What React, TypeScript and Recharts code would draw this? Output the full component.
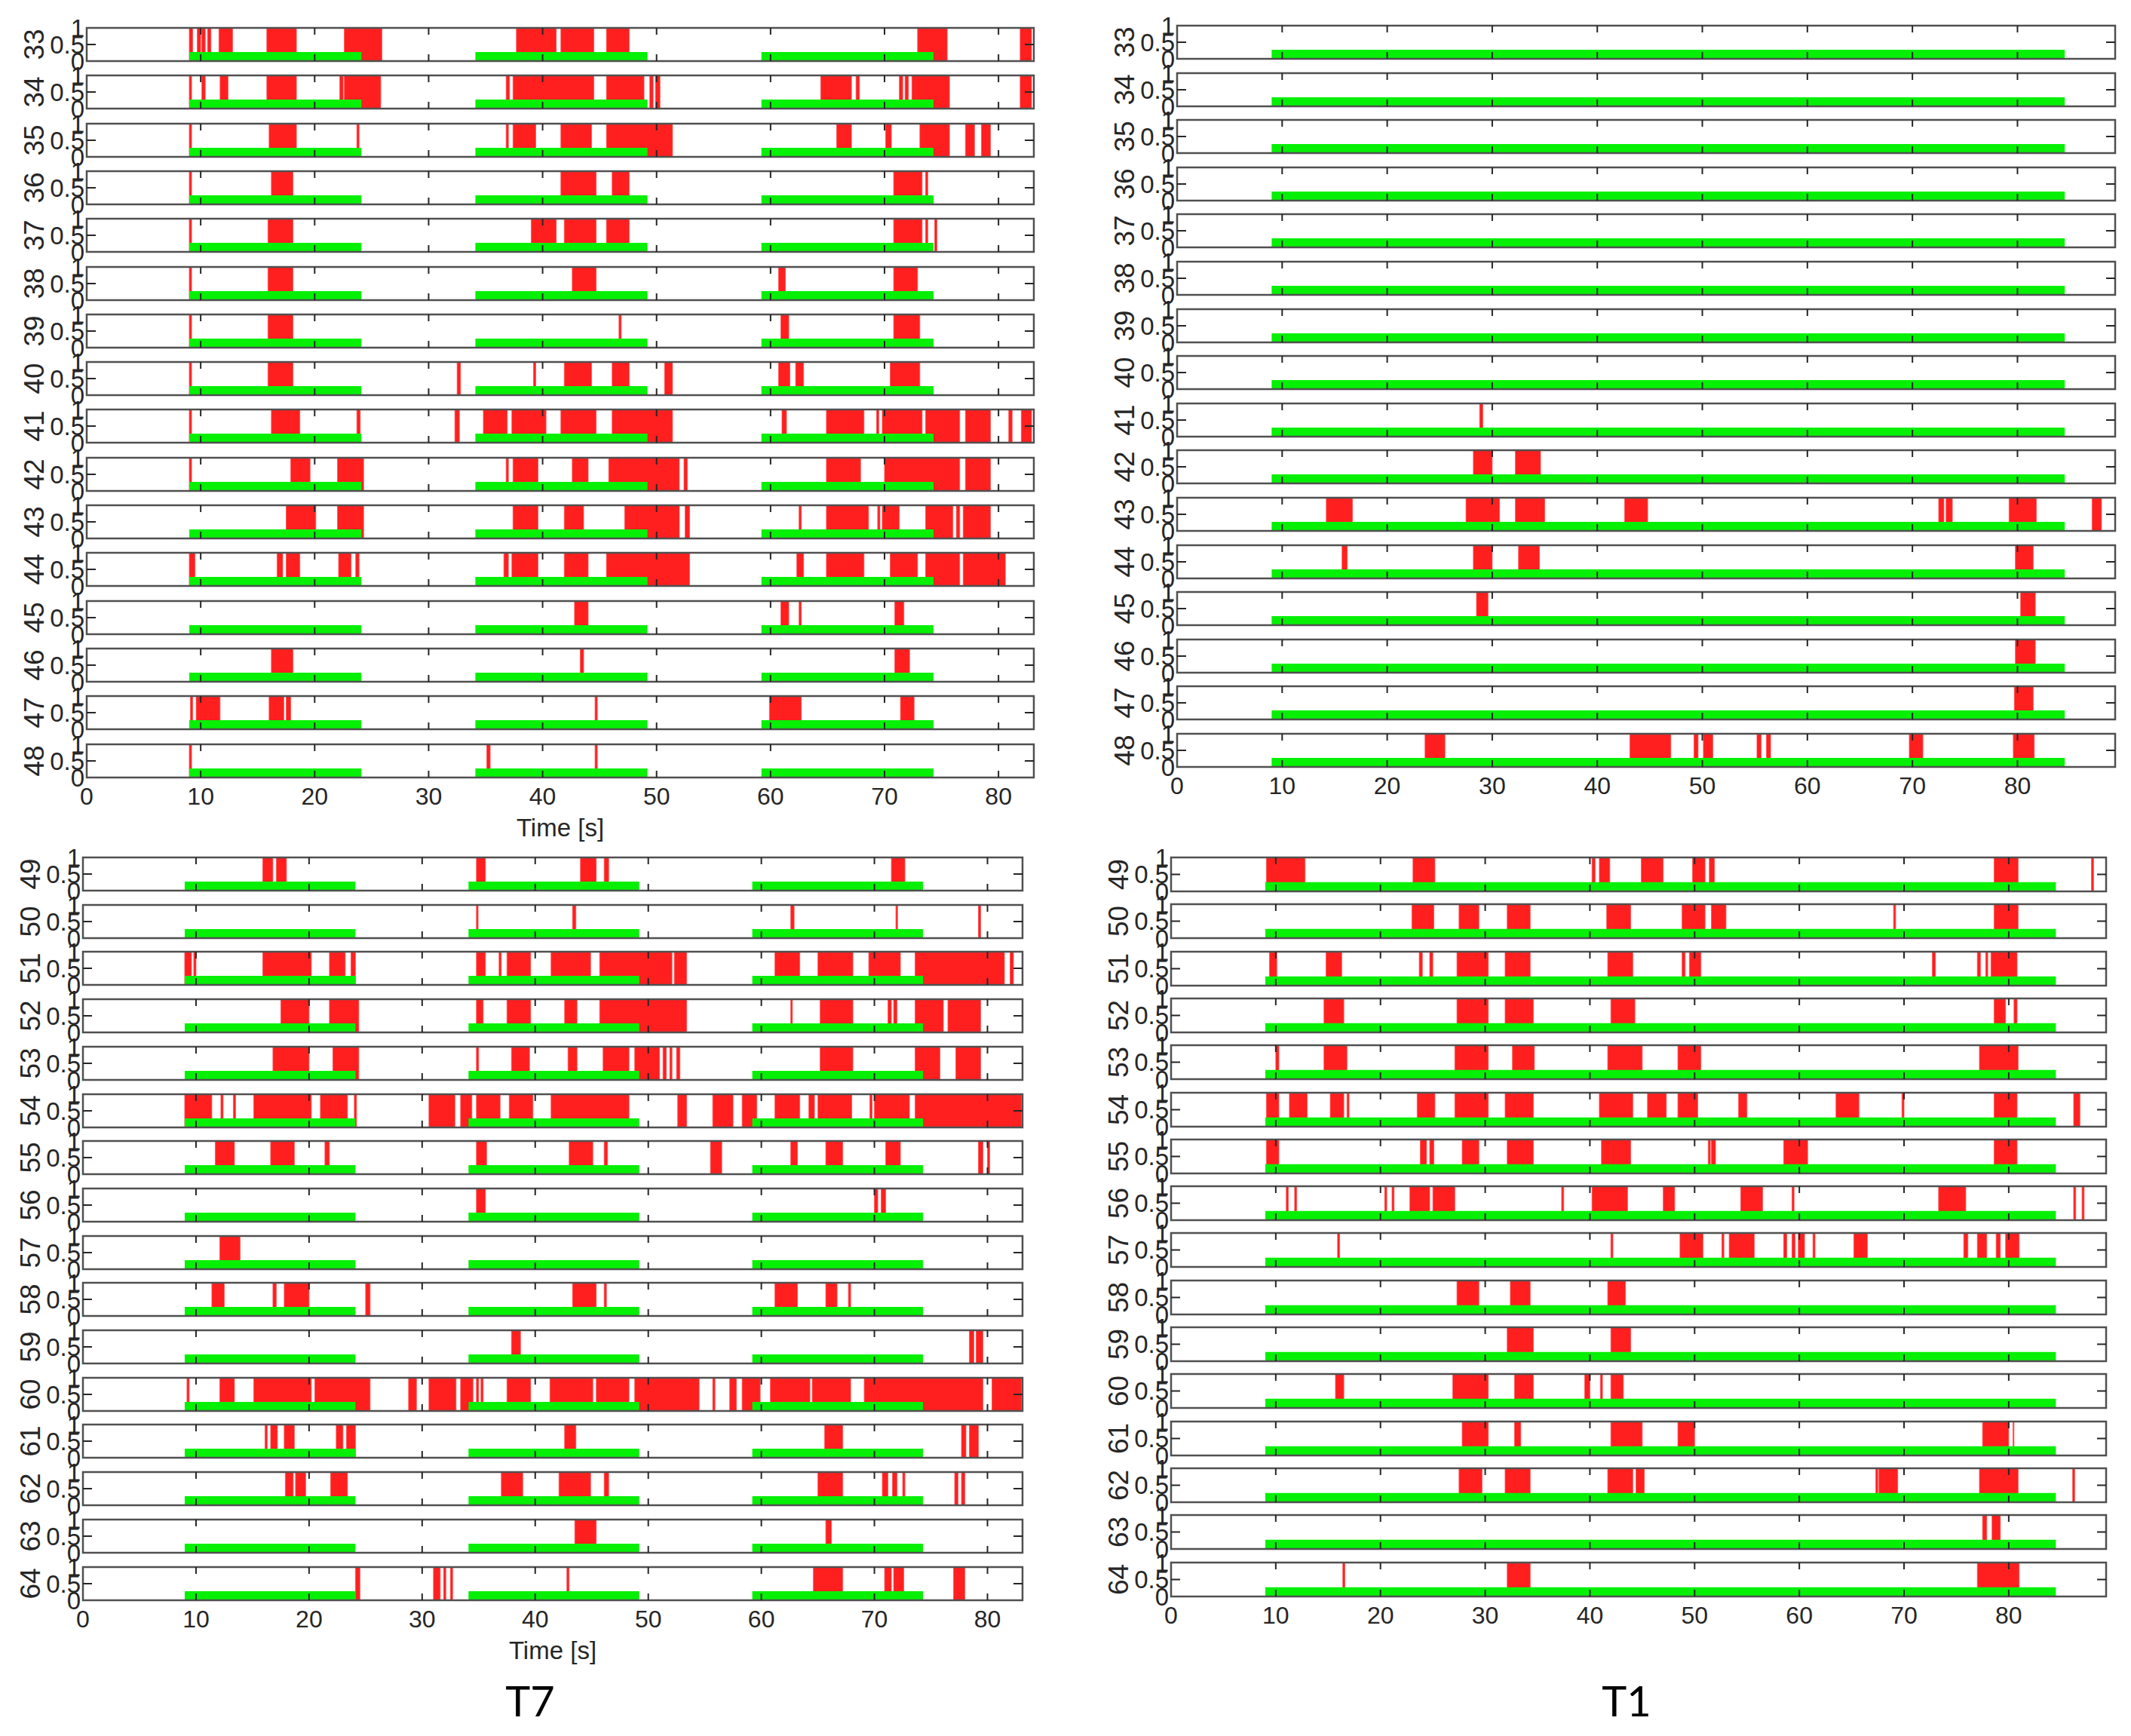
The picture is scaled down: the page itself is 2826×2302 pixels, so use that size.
import React from 'react';
import { ComposedChart, XAxis, YAxis, Line, ReferenceArea, ReferenceLine } from 'recharts';

type Span = [number, number];

const INK = '#262626';
const FONT = '"Liberation Sans", Arial, sans-serif';
const RED = '#ff1f1f';
const GREEN = '#05f005';

const UPPER_CHANNELS = [33, 34, 35, 36, 37, 38, 39, 40, 41, 42, 43, 44, 45, 46, 47, 48];
const LOWER_CHANNELS = [49, 50, 51, 52, 53, 54, 55, 56, 57, 58, 59, 60, 61, 62, 63, 64];
const TIME_TICKS = [0, 10, 20, 30, 40, 50, 60, 70, 80];
const LEVEL_TICKS = [0, 0.5, 1];

// stimulation windows (green) and their bar level
const T7_STIM: Span[] = [[9.0, 24.1], [34.1, 49.2], [59.2, 74.3]];
const T1_STIM: Span[] = [[9.0, 84.5]];
const STIM_LEVEL = 0.27;

// x limits of the two recordings
const T7_XMAX = 83.1;
const T1_XMAX = 89.3;

// activity (red), one list per channel, T7 channels 33-48
const T7_UPPER: Span[][] = [
  [[9.0, 9.3], [9.7, 10.0], [10.1, 10.4], [10.6, 10.9], [11.6, 12.8], [15.8, 18.4], [22.6, 25.9], [37.7, 41.2], [41.6, 44.5], [45.6, 47.6], [72.9, 75.5], [81.9, 82.9]],
  [[9.0, 9.2], [10.1, 10.4], [11.7, 12.4], [15.8, 18.4], [22.2, 22.5], [22.6, 25.8], [36.8, 37.1], [37.4, 44.5], [45.6, 48.9], [49.4, 49.7], [49.9, 50.3], [64.4, 67.1], [67.5, 67.8], [71.3, 71.6], [71.8, 72.1], [72.4, 75.7], [81.9, 82.9]],
  [[9.0, 9.2], [16.0, 18.4], [23.7, 23.9], [36.8, 37.0], [37.4, 39.4], [41.6, 44.3], [45.6, 51.4], [65.8, 67.1], [70.1, 70.6], [73.1, 75.7], [77.1, 77.9], [78.5, 79.3]],
  [[9.0, 9.2], [16.2, 18.1], [41.6, 44.7], [46.1, 47.6], [70.8, 73.3], [73.6, 73.8]],
  [[9.0, 9.2], [15.9, 18.1], [39.0, 41.2], [41.9, 44.7], [45.6, 47.6], [70.8, 73.3], [73.6, 73.8], [74.4, 74.6]],
  [[9.0, 9.2], [15.9, 18.1], [42.6, 44.7], [60.7, 61.3], [70.8, 72.9]],
  [[9.0, 9.2], [15.9, 18.1], [46.7, 46.9], [60.9, 61.6], [70.8, 73.1]],
  [[9.0, 9.2], [15.9, 18.1], [32.5, 32.8], [39.2, 39.4], [41.9, 44.3], [46.1, 47.6], [50.7, 51.4], [60.7, 61.7], [62.2, 62.9], [70.5, 73.1]],
  [[9.0, 9.2], [16.2, 18.7], [23.7, 24.0], [32.3, 32.7], [34.8, 36.9], [37.3, 40.3], [41.6, 44.7], [46.1, 51.4], [61.0, 61.4], [64.9, 68.2], [69.3, 69.5], [69.8, 73.3], [73.6, 76.6], [77.1, 79.3], [80.9, 81.2], [82.0, 82.9]],
  [[9.0, 9.2], [17.9, 19.6], [22.0, 24.3], [36.8, 37.0], [37.4, 39.6], [42.6, 44.0], [45.8, 52.0], [52.4, 52.7], [64.9, 67.9], [70.0, 76.6], [77.1, 79.3]],
  [[17.5, 20.1], [22.0, 24.3], [37.4, 39.6], [41.9, 43.6], [47.2, 52.0], [52.5, 52.9], [62.5, 62.7], [64.9, 68.6], [69.4, 69.6], [69.8, 71.3], [73.6, 76.0], [76.3, 76.6], [76.9, 79.3]],
  [[9.0, 9.5], [16.7, 17.2], [17.5, 18.7], [22.1, 23.2], [23.6, 23.9], [36.6, 37.0], [37.3, 39.6], [41.9, 44.0], [45.6, 52.9], [62.3, 62.9], [64.9, 68.2], [70.5, 72.9], [73.6, 76.6], [76.9, 80.6]],
  [[42.8, 44.0], [60.9, 61.6], [62.5, 62.7], [70.9, 71.7]],
  [[16.2, 18.1], [43.3, 43.6], [70.9, 72.2]],
  [[9.1, 9.3], [9.6, 11.7], [16.0, 17.3], [17.5, 17.9], [44.6, 44.8], [59.9, 62.7], [71.4, 72.6]],
  [[9.0, 9.2], [35.1, 35.4], [44.6, 44.8]],
];

// T1 channels 33-48
const T1_UPPER: Span[][] = [
  [], [], [], [], [], [], [], [],
  [[28.8, 29.1]],
  [[28.2, 30.0], [32.2, 34.6]],
  [[14.2, 16.7], [27.5, 30.7], [32.2, 35.0], [42.6, 44.8], [72.5, 73.0], [73.2, 73.8], [79.2, 81.8], [87.1, 88.0]],
  [[15.7, 16.2], [28.2, 30.0], [32.5, 34.5], [79.8, 81.5]],
  [[28.5, 29.6], [80.3, 81.7]],
  [[79.8, 81.7]],
  [[79.7, 81.5]],
  [[23.6, 25.5], [43.1, 47.0], [49.2, 49.6], [50.1, 51.0], [55.2, 55.6], [56.1, 56.5], [69.7, 71.0], [79.6, 81.6]],
];

// T7 channels 49-64
const T7_LOWER: Span[][] = [
  [[15.9, 16.8], [17.1, 18.0], [34.8, 35.6], [44.0, 45.4], [46.1, 46.5], [71.5, 72.7]],
  [[34.8, 34.95], [43.3, 43.6], [62.6, 62.9], [71.9, 72.05], [79.2, 79.4]],
  [[9.0, 9.6], [9.8, 10.0], [15.9, 20.2], [21.8, 23.2], [23.7, 24.1], [34.8, 35.6], [36.8, 37.0], [37.5, 39.6], [41.4, 44.9], [45.7, 52.1], [52.3, 53.4], [61.2, 63.4], [65.0, 68.1], [69.5, 72.3], [73.6, 81.5], [82.0, 82.3]],
  [[17.5, 20.0], [21.8, 24.4], [34.8, 35.4], [37.5, 39.6], [42.6, 43.7], [45.7, 53.4], [62.6, 62.75], [65.2, 68.1], [71.2, 71.5], [71.7, 72.0], [73.6, 76.1], [76.5, 79.4]],
  [[16.8, 20.0], [22.1, 24.4], [34.8, 35.0], [37.9, 39.5], [42.9, 43.7], [46.0, 48.3], [48.8, 51.0], [51.3, 51.6], [51.9, 52.1], [52.5, 52.8], [65.2, 68.1], [73.6, 75.8], [77.2, 79.4]],
  [[9.0, 11.4], [12.2, 12.4], [13.3, 13.5], [15.1, 20.2], [21.0, 23.4], [24.0, 24.2], [30.6, 32.9], [33.4, 34.4], [34.8, 36.9], [37.7, 39.8], [41.4, 48.3], [52.6, 53.4], [55.7, 57.5], [58.3, 59.6], [61.2, 63.4], [64.2, 64.7], [65.0, 68.0], [69.6, 69.8], [70.0, 73.1], [73.6, 83.0]],
  [[11.7, 13.4], [16.6, 18.7], [21.4, 21.8], [34.8, 35.7], [43.0, 45.1], [46.1, 46.4], [55.5, 56.5], [62.6, 63.2], [65.7, 67.2], [71.0, 72.3], [79.2, 79.6], [80.0, 80.2]],
  [[34.8, 35.6], [70.0, 70.3], [70.6, 71.0]],
  [[12.1, 13.9]],
  [[11.4, 12.5], [16.8, 17.1], [17.8, 20.0], [25.0, 25.4], [43.3, 45.4], [46.1, 46.3], [61.2, 63.2], [65.7, 66.7], [67.7, 67.9]],
  [[37.9, 38.7], [78.4, 78.8], [79.0, 79.6]],
  [[9.2, 9.4], [12.1, 13.4], [15.1, 20.2], [20.5, 25.4], [28.8, 29.5], [30.6, 33.0], [33.4, 34.5], [34.8, 35.0], [35.2, 35.4], [37.5, 39.6], [41.3, 45.1], [45.4, 48.3], [48.8, 54.5], [55.7, 55.9], [57.2, 57.8], [58.3, 59.9], [60.8, 64.3], [64.5, 67.9], [69.1, 79.6], [80.4, 83.0]],
  [[16.1, 16.3], [16.6, 17.2], [17.8, 18.7], [22.4, 23.0], [23.3, 24.1], [42.6, 43.6], [65.6, 67.2], [77.7, 78.1], [78.4, 79.2]],
  [[17.9, 18.6], [18.8, 19.7], [21.9, 23.4], [37.0, 38.9], [42.1, 44.9], [46.1, 46.5], [65.0, 67.2], [70.7, 71.2], [71.6, 72.0], [72.5, 72.7], [77.1, 77.4], [77.7, 78.0]],
  [[43.5, 45.4], [65.7, 66.2]],
  [[24.1, 24.5], [31.0, 31.6], [31.9, 32.1], [32.5, 32.7], [42.8, 43.0], [64.6, 67.2], [70.9, 71.5], [71.7, 72.6], [77.0, 78.0]],
];

// T1 channels 49-64
const T1_LOWER: Span[][] = [
  [[9.1, 12.8], [23.1, 25.2], [40.2, 40.5], [40.9, 41.9], [44.9, 47.0], [49.8, 51.0], [51.4, 51.9], [78.6, 80.9], [87.9, 88.1]],
  [[23.0, 25.1], [27.5, 29.4], [32.1, 34.3], [41.6, 43.9], [48.8, 51.0], [51.6, 53.0], [69.0, 69.2], [78.6, 80.9]],
  [[9.4, 10.1], [14.8, 16.3], [23.7, 24.0], [24.7, 25.0], [27.3, 30.3], [31.9, 34.3], [41.7, 44.1], [48.8, 49.1], [49.5, 50.6], [72.7, 73.0], [77.0, 77.3], [77.8, 78.0], [78.3, 80.8]],
  [[14.6, 16.5], [27.3, 30.3], [31.9, 34.6], [42.0, 44.3], [78.6, 79.7], [80.5, 80.8]],
  [[10.0, 10.3], [14.6, 16.8], [27.1, 30.3], [32.6, 34.7], [41.7, 45.0], [48.4, 50.6], [77.2, 80.9]],
  [[9.1, 10.3], [11.3, 13.0], [15.2, 16.5], [16.8, 17.0], [23.5, 25.2], [27.1, 30.3], [31.9, 34.6], [40.9, 44.1], [45.5, 47.3], [48.4, 50.3], [54.2, 55.0], [63.5, 65.7], [69.8, 70.0], [78.6, 80.8], [86.2, 86.8]],
  [[9.1, 10.3], [23.8, 24.4], [24.7, 25.1], [27.8, 29.4], [32.1, 34.6], [41.1, 43.9], [51.3, 51.5], [51.6, 52.0], [58.5, 60.8], [78.6, 80.8]],
  [[11.0, 11.2], [11.8, 12.0], [20.4, 20.6], [21.1, 21.3], [22.8, 24.7], [25.0, 27.1], [37.3, 37.5], [40.2, 43.6], [47.0, 48.1], [54.4, 56.5], [59.3, 59.5], [73.3, 75.9], [86.2, 86.4], [87.0, 87.2]],
  [[15.9, 16.1], [42.0, 42.2], [48.6, 50.8], [52.6, 52.8], [53.3, 55.7], [58.5, 58.8], [59.3, 59.6], [59.9, 60.5], [61.3, 61.5], [65.2, 66.5], [75.7, 76.1], [77.0, 77.9], [78.8, 79.2], [79.7, 81.0]],
  [[27.3, 29.4], [32.4, 34.3], [41.7, 43.4]],
  [[32.1, 34.6], [42.0, 43.9]],
  [[15.7, 16.5], [26.9, 30.3], [32.8, 34.6], [39.5, 40.0], [41.0, 41.2], [42.0, 43.2]],
  [[27.8, 30.3], [32.8, 33.4], [42.0, 45.0], [48.4, 50.0], [77.5, 80.0], [80.4, 80.5]],
  [[27.5, 29.7], [31.9, 34.3], [41.7, 44.1], [44.4, 45.2], [67.3, 67.5], [67.6, 69.4], [77.2, 80.9], [86.1, 86.3]],
  [[77.5, 77.9], [78.4, 79.2]],
  [[16.4, 16.6], [32.1, 34.3], [77.0, 81.0]],
];

interface Panel {
  key: string;
  left: number;
  top: number;
  pitch: number;
  h: number;
  w: number;
  xMax: number;
  channels: number[];
  spikes: Span[][];
  stim: Span[];
  timeLabel: boolean;
}

const PANELS: Panel[] = [
  { key: 't7u', left: 115, top: 37, pitch: 63.3, h: 44, w: 1256, xMax: T7_XMAX, channels: UPPER_CHANNELS, spikes: T7_UPPER, stim: T7_STIM, timeLabel: true },
  { key: 't1u', left: 1561, top: 34, pitch: 62.6, h: 44, w: 1244, xMax: T1_XMAX, channels: UPPER_CHANNELS, spikes: T1_UPPER, stim: T1_STIM, timeLabel: false },
  { key: 't7l', left: 110, top: 1137, pitch: 62.7, h: 44, w: 1246, xMax: T7_XMAX, channels: LOWER_CHANNELS, spikes: T7_LOWER, stim: T7_STIM, timeLabel: true },
  { key: 't1l', left: 1553, top: 1137, pitch: 62.3, h: 45, w: 1240, xMax: T1_XMAX, channels: LOWER_CHANNELS, spikes: T1_LOWER, stim: T1_STIM, timeLabel: false },
];

// invisible baseline series so both axes get a scale
const BASE = TIME_TICKS.map((t) => ({ t, v: 0 }));

const ChannelLabel = (props: any) => {
  const vb = props.viewBox || { x: 0, y: 0, width: 100, height: 44 };
  const cx = vb.x + vb.width - 70;
  const cy = vb.y + vb.height / 2;
  return (
    <text x={cx} y={cy} transform={`rotate(-90 ${cx} ${cy})`} textAnchor="middle"
      dominantBaseline="central" fontSize={37} fill={INK} fontFamily={FONT}>
      {props.value}
    </text>
  );
};

const Strip = ({ panel, index }: { panel: Panel; index: number }) => {
  const ch = panel.channels[index];
  const spikes = panel.spikes[index];
  const last = index === panel.channels.length - 1;
  const YW = 100;
  const MT = 22;
  const MR = 6;
  const axisH = panel.timeLabel ? 90 : 46;
  const MB = last ? 2 : 22;
  const height = MT + panel.h + MB + (last ? axisH : 0);
  const width = YW + panel.w + MR;
  const top = Math.round(panel.top + index * panel.pitch);
  const tickY = 9 / panel.h;
  const tickX = (12 * panel.xMax) / panel.w;
  const inner = TIME_TICKS.filter((t) => t > 0);

  return (
    <div style={{ position: 'absolute', left: panel.left - YW, top: top - MT }}>
      <ComposedChart width={width} height={height} data={BASE}
        margin={{ top: MT, right: MR, bottom: MB, left: 0 }}>
        <XAxis type="number" dataKey="t" domain={[0, panel.xMax]} ticks={TIME_TICKS} interval={0}
          allowDataOverflow hide={!last} height={axisH} tickLine={false} axisLine={false}
          tickSize={0} tickMargin={13}
          tick={{ fontSize: 32, fill: INK, fontFamily: FONT }}
          label={last && panel.timeLabel
            ? { value: 'Time [s]', position: 'insideBottom', offset: 12, fontSize: 33, fill: INK, fontFamily: FONT }
            : undefined} />
        <YAxis type="number" domain={[0, 1]} ticks={LEVEL_TICKS} interval={0} width={YW}
          allowDataOverflow tickLine={false} axisLine={false} tickSize={0} tickMargin={3}
          tick={{ fontSize: 33, fill: INK, fontFamily: FONT }}
          label={{ value: String(ch), content: ChannelLabel }} />
        <Line dataKey="v" stroke="none" dot={false} activeDot={false} isAnimationActive={false} />
        {spikes.map(([a, b], i) => (
          <ReferenceArea key={`r${i}`} x1={a} x2={b} y1={0} y2={1} fill={RED} fillOpacity={1}
            stroke="#ff5252" strokeWidth={0.8} ifOverflow="visible" />
        ))}
        {panel.stim.map(([a, b], i) => (
          <ReferenceArea key={`g${i}`} x1={a} x2={b} y1={0} y2={STIM_LEVEL} fill={GREEN}
            fillOpacity={1} stroke="none" ifOverflow="visible" />
        ))}
        <ReferenceArea x1={0} x2={panel.xMax} y1={0} y2={1} fill="none" stroke="#505050"
          strokeWidth={2.5} ifOverflow="visible" />
        {inner.map((t) => (
          <ReferenceLine key={`tb${t}`} segment={[{ x: t, y: 0 }, { x: t, y: tickY }]}
            stroke={INK} strokeWidth={2} ifOverflow="visible" />
        ))}
        {inner.map((t) => (
          <ReferenceLine key={`tt${t}`} segment={[{ x: t, y: 1 - tickY }, { x: t, y: 1 }]}
            stroke={INK} strokeWidth={2} ifOverflow="visible" />
        ))}
        <ReferenceLine segment={[{ x: 0, y: 0.5 }, { x: tickX, y: 0.5 }]} stroke={INK}
          strokeWidth={2} ifOverflow="visible" />
        <ReferenceLine segment={[{ x: panel.xMax - tickX, y: 0.5 }, { x: panel.xMax, y: 0.5 }]}
          stroke={INK} strokeWidth={2} ifOverflow="visible" />
      </ComposedChart>
    </div>
  );
};

export default function App() {
  return (
    <div style={{ position: 'absolute', left: 0, top: 0, width: 2826, height: 2302, background: '#fff', overflow: 'hidden' }}>
      {PANELS.map((p) => p.channels.map((_, i) => <Strip key={`${p.key}-${i}`} panel={p} index={i} />))}
      <svg width={2826} height={2302} style={{ position: 'absolute', left: 0, top: 0, pointerEvents: 'none' }}>
        <text x={703} y={2276} textAnchor="middle" fontSize={56} fill="#000" fontFamily="Lato, 'Open Sans', sans-serif">T7</text>
        <text x={2157} y={2276} textAnchor="middle" fontSize={56} fill="#000" fontFamily="Lato, 'Open Sans', sans-serif">T1</text>
      </svg>
    </div>
  );
}
